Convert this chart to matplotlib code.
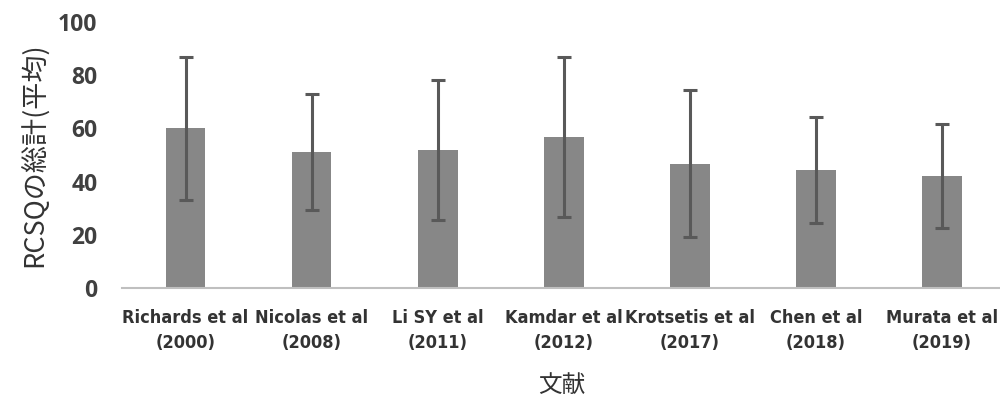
import matplotlib
matplotlib.use("Agg")
import matplotlib.pyplot as plt
import numpy as np

# data
studies = ["Richards et al\n(2000)", "Nicolas et al\n(2008)", "Li SY et al\n(2011)",
           "Kamdar et al\n(2012)", "Krotsetis et al\n(2017)", "Chen et al\n(2018)",
           "Murata et al\n(2019)"]
means = [60, 51, 52, 56.6, 46.5, 44.4, 42.2]
err_low = [33, 29.3, 25.6, 26.8, 19.3, 24.5, 22.4]
err_high = [86.7, 72.8, 78.1, 86.7, 74.3, 64.2, 61.5]

plt.rcParams['font.family'] = ['Noto Sans CJK JP', 'DejaVu Sans']

fig = plt.figure(figsize=(10, 4.03), dpi=100)
ax = fig.add_axes([0.1225, 0.2854, 0.8775, 0.66])

x = np.arange(len(studies))
m = np.array(means)
yerr = [m - np.array(err_low), np.array(err_high) - m]
ax.bar(x, m, width=0.315, color="#878787", zorder=2)
ax.errorbar(x, m, yerr=yerr, fmt="none", ecolor="#595959", elinewidth=2.2,
            capsize=5, capthick=2.2, zorder=3)

ax.set_xlim(-0.5, 6.46)
ax.set_ylim(0, 100)
ax.set_yticks([0, 20, 40, 60, 80, 100])
for s in ["top", "right", "left"]:
    ax.spines[s].set_visible(False)
ax.spines["bottom"].set_color("#bfbfbf")
ax.spines["bottom"].set_linewidth(1.5)
ax.tick_params(axis="both", length=0)
ax.tick_params(axis="y", pad=18)
ax.tick_params(axis="x", pad=15)
for t in ax.get_yticklabels():
    t.set_fontsize(16.5)
    t.set_fontweight("bold")
    t.set_color("#404040")
    t.set_family(["Open Sans", "DejaVu Sans"])
ax.set_xticks(x)
ax.set_xticklabels(studies, fontsize=13, fontweight="bold", color="#333333",
                   family=["DejaVu Sans"], fontstretch="condensed", linespacing=1.5)

ax.set_ylabel("RCSQの総計(平均)", fontsize=19.5, color="#333333", labelpad=7)
ax.set_xlabel("文献", fontsize=17, color="#333333", labelpad=16)

fig.savefig("out.png", dpi=100)
